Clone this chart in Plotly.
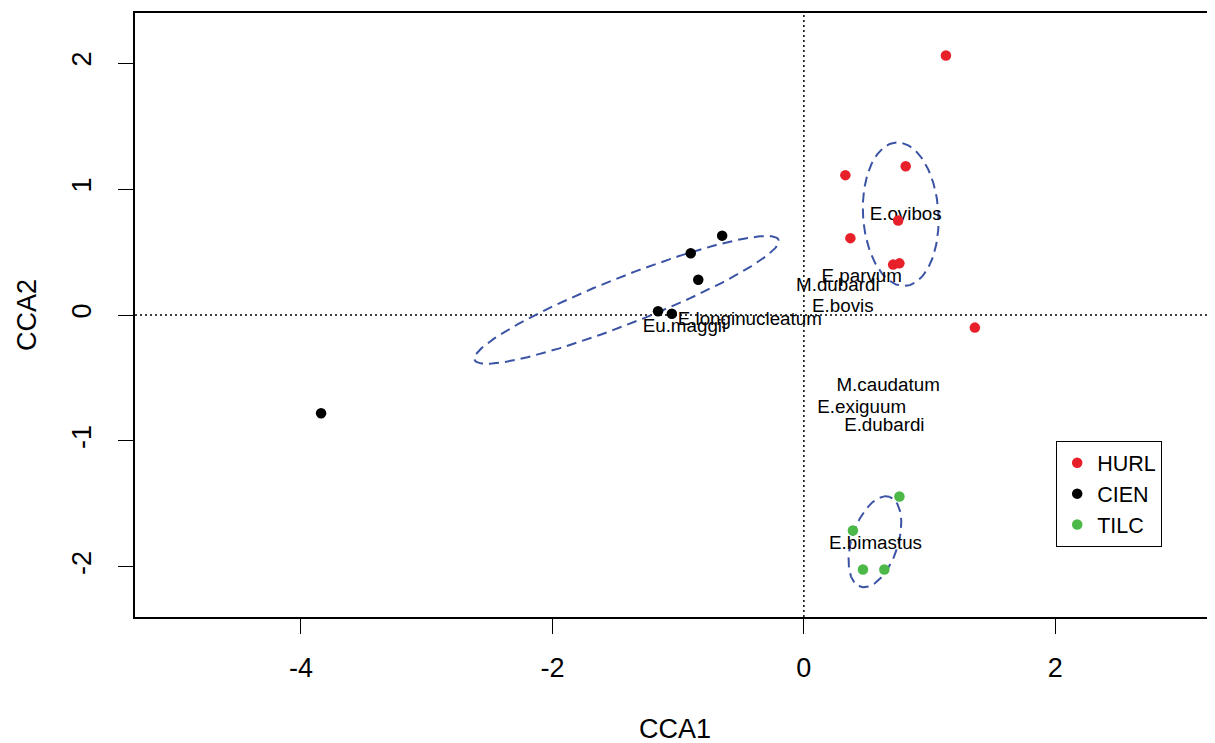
import numpy as np
import plotly.graph_objects as go

# ---- data ----
groups = ["HURL", "CIEN", "TILC"]
group_colors = ["#E8202A", "#000000", "#4CB848"]

hurl_x = [1.13, 0.81, 0.33, 0.75, 0.37, 0.71, 0.76, 1.36]
hurl_y = [2.06, 1.18, 1.11, 0.75, 0.61, 0.40, 0.41, -0.10]
cien_x = [-0.65, -0.90, -0.84, -1.16, -1.05, -3.84]
cien_y = [0.63, 0.49, 0.28, 0.03, 0.01, -0.78]
tilc_x = [0.76, 0.39, 0.47, 0.64]
tilc_y = [-1.44, -1.71, -2.02, -2.02]

species_names = ["E.ovibos", "E.parvum", "M.dubardi", "E.bovis", "E.longinucleatum",
                 "Eu.maggii", "M.caudatum", "E.exiguum", "E.dubardi", "E.bimastus"]
species_x = [0.81, 0.46, 0.27, 0.31, -0.43, -0.95, 0.67, 0.46, 0.64, 0.57]
species_y = [0.79, 0.30, 0.23, 0.06, -0.04, -0.10, -0.57, -0.74, -0.88, -1.82]

# ellipse parameters per group: centre, semi-axes, angle (deg)
ell_cx = [0.77, -1.41, 0.565]
ell_cy = [0.80, 0.12, -1.80]
ell_a = [0.57, 1.30, 0.375]
ell_b = [0.30, 0.186, 0.184]
ell_ang = [93.5, 21.5, 72.0]

x_ticks = [-4, -2, 0, 2]
x_tick_labels = ["-4", "-2", "0", "2"]
y_ticks = [-2, -1, 0, 1, 2]
y_tick_labels = ["-2", "-1", "0", "1", "2"]
x_range = [-5.32, 3.27]
y_range = [-2.397, 2.397]

FONT = "Liberation Sans, Arial, sans-serif"
NARROW = "Liberation Sans Narrow, Arial Narrow, Liberation Sans, sans-serif"

fig = go.Figure()

# reference dotted lines
fig.add_shape(type="line", x0=0, x1=0, y0=y_range[0], y1=y_range[1],
              line=dict(color="black", width=1.5, dash="2px,3px"), layer="below")
fig.add_shape(type="line", x0=x_range[0], x1=x_range[1], y0=0, y1=0,
              line=dict(color="black", width=1.5, dash="2px,3px"), layer="below")

# ellipses
t = np.linspace(0, 2 * np.pi, 200)
for cx, cy, a, b, ang in zip(ell_cx, ell_cy, ell_a, ell_b, ell_ang):
    th = np.deg2rad(ang)
    ex = cx + a * np.cos(t) * np.cos(th) - b * np.sin(t) * np.sin(th)
    ey = cy + a * np.cos(t) * np.sin(th) + b * np.sin(t) * np.cos(th)
    fig.add_trace(go.Scatter(x=ex, y=ey, mode="lines", showlegend=False,
                             line=dict(color="#3B53A4", width=2, dash="10px,6px"),
                             hoverinfo="skip"))

# species labels
fig.add_trace(go.Scatter(x=species_x, y=species_y, mode="text", text=species_names,
                         textfont=dict(family=FONT, size=18.8, color="black"),
                         showlegend=False))

# points
for name, col, xs, ys in zip(groups, group_colors, [hurl_x, cien_x, tilc_x], [hurl_y, cien_y, tilc_y]):
    fig.add_trace(go.Scatter(x=xs, y=ys, mode="markers", name=name,
                             marker=dict(color=col, size=10.5)))

axis_common = dict(showgrid=False, zeroline=False, ticks="outside", ticklen=15,
                   tickwidth=1.2, tickcolor="black", linecolor="black", linewidth=1.5,
                   showline=True, tickfont=dict(family=NARROW, size=27, color="black"))

fig.update_xaxes(range=x_range, tickvals=x_ticks, ticktext=x_tick_labels, mirror=True,
                 ticklabelstandoff=11, **axis_common)
fig.update_yaxes(range=y_range, tickvals=y_ticks, ticktext=y_tick_labels, mirror=False,
                 tickangle=-90, ticklabelstandoff=16, **axis_common)

fig.add_annotation(text="CCA1", x=0.5, xref="paper", y=-0.185, yref="paper",
                   showarrow=False, font=dict(family=NARROW, size=27, color="black"),
                   xanchor="center", yanchor="middle")
fig.add_annotation(text="CCA2", x=(27 - 135) / 1080, xref="paper", y=0.5, yref="paper",
                   textangle=-90, showarrow=False,
                   font=dict(family=NARROW, size=27, color="black"),
                   xanchor="center", yanchor="middle")

# page body has an 8px margin; the figure is sized so the plot box lands in place
fig.update_layout(
    width=1207, height=735,
    margin=dict(l=127, r=0, t=5, b=126),
    plot_bgcolor="white", paper_bgcolor="white",
    font=dict(family=FONT, color="black"),
    legend=dict(x=(1056 - 135) / 1080, y=(617 - 441) / 604, xanchor="left", yanchor="top",
                bordercolor="black", borderwidth=1.2, bgcolor="white",
                font=dict(family=FONT, size=21.5, color="black"),
                itemwidth=30, tracegroupgap=0),
)

fig.write_html("out.html")
